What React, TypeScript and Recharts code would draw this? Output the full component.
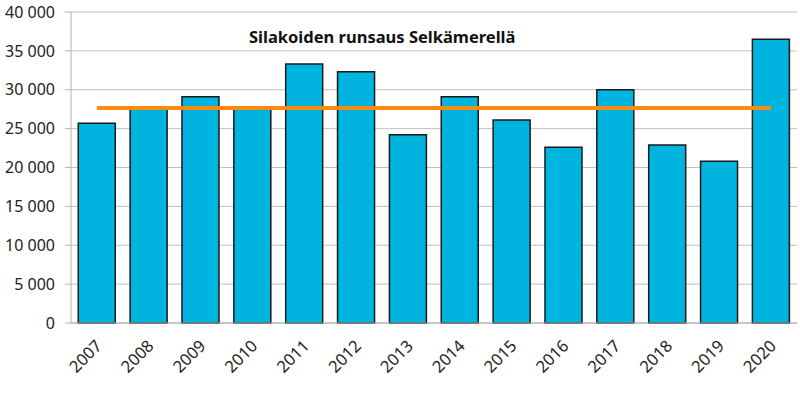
import { ComposedChart, Bar, Line, XAxis, YAxis, CartesianGrid } from "recharts";

const years = ["2007", "2008", "2009", "2010", "2011", "2012", "2013", "2014", "2015", "2016", "2017", "2018", "2019", "2020"];
const abundance = [25700, 27500, 29100, 27500, 33300, 32300, 24200, 29100, 26100, 22600, 30000, 22900, 20800, 36500];
const average = [27650, 27650, 27650, 27650, 27650, 27650, 27650, 27650, 27650, 27650, 27650, 27650, 27650, 27650];
const yTicks = [0, 5000, 10000, 15000, 20000, 25000, 30000, 35000, 40000];

const data = years.map((year, i) => ({ year, value: abundance[i], avg: average[i] }));

const FONT = "'Noto Sans', sans-serif";

const fmt = (v: number) => (v === 0 ? "0" : `${Math.floor(v / 1000)} ${String(v % 1000).padStart(3, "0")}`);

const YearTick = (props: any) => {
  const { x, y, payload } = props;
  const ax = x + 6;
  const ay = y + 16;
  return (
    <text
      x={ax}
      y={ay}
      textAnchor="end"
      fontSize={16.5}
      fontFamily={FONT}
      fill="#222"
      transform={`rotate(-45, ${ax}, ${ay})`}
    >
      {payload.value}
    </text>
  );
};

const App = () => {
  return (
    <div style={{ position: "absolute", left: 0, top: 0, width: 800, height: 393, background: "#fff" }}>
      <ComposedChart
        width={800}
        height={393}
        data={data}
        margin={{ top: 12, right: 3, left: 0, bottom: 10 }}
        barCategoryGap="14%"
      >
        <CartesianGrid vertical={false} stroke="#c0c0c0" />
        <XAxis
          dataKey="year"
          height={60}
          tick={<YearTick />}
          tickLine={false}
          axisLine={{ stroke: "#b0b0b0" }}
          interval={0}
        />
        <YAxis
          width={71}
          domain={[0, 40000]}
          ticks={yTicks}
          tickFormatter={fmt}
          tick={{ fontSize: 16, fontFamily: FONT, fill: "#222" }}
          tickSize={6}
          tickMargin={10}
          axisLine={{ stroke: "#b0b0b0" }}
          tickLine={{ stroke: "#b0b0b0" }}
        />
        <Bar dataKey="value" fill="#00B4E0" stroke="#1a1a1a" strokeWidth={1.5} isAnimationActive={false} />
        <Line
          dataKey="avg"
          type="linear"
          stroke="#FF8A10"
          strokeWidth={4}
          dot={false}
          activeDot={false}
          isAnimationActive={false}
        />
      </ComposedChart>
      <div
        style={{
          position: "absolute",
          left: 249,
          top: 25,
          fontFamily: FONT,
          fontWeight: "bold",
          fontSize: 16.5,
          color: "#111",
          whiteSpace: "nowrap",
        }}
      >
        Silakoiden runsaus Selkämerellä
      </div>
    </div>
  );
};

export default App;
